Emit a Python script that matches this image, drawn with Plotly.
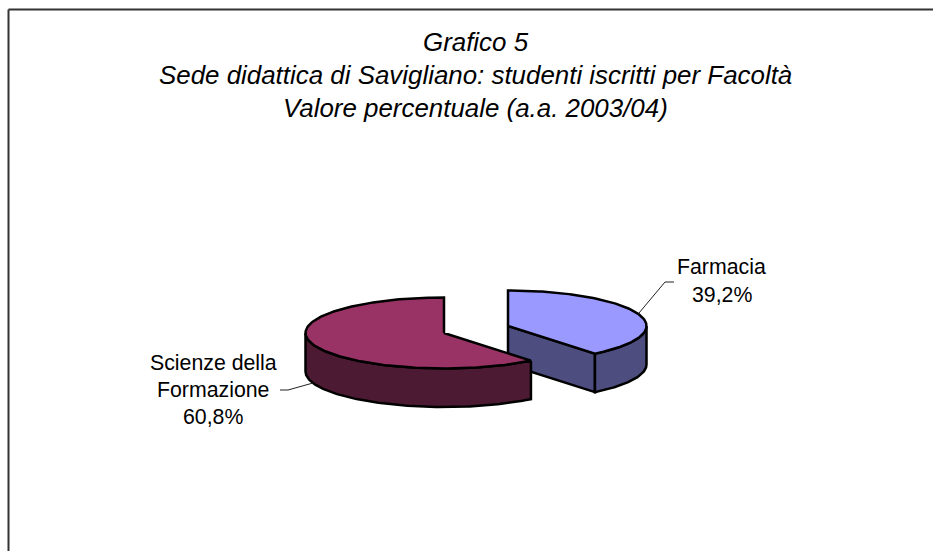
import numpy as np
import plotly.graph_objects as go

# Data
categories = ["Farmacia", "Scienze della Formazione"]
values = [39.2, 60.8]
value_labels = ["39,2%", "60,8%"]
title_lines = ["Grafico 5",
               "Sede didattica di Savigliano: studenti iscritti per Facoltà",
               "Valore percentuale (a.a. 2003/04)"]

# Style / layout
W, H = 933, 551
RX, RY, DEPTH = 138.5, 35.5, 38.5
centers = [(508, 326), (444, 333)]
top_colors = ["#9999FF", "#993366"]
side_colors = ["#4D4D80", "#4D1A33"]
FONT = "Liberation Sans"
EDGE = dict(color="black", width=2.5)

total = sum(values)
fractions = [v / total for v in values]
boundary = fractions[0] * 2 * np.pi


def ell(c, t):
    t = np.asarray(t, dtype=float)
    return c[0] + RX * np.sin(t), c[1] - RY * np.cos(t)


def poly(xs, ys, fill):
    return go.Scatter(x=list(xs), y=list(ys), mode="lines", fill="toself",
                      fillcolor=fill, line=EDGE, hoverinfo="skip",
                      showlegend=False)


fig = go.Figure()

# Farmacia slice: from 0 to boundary, clockwise from the top
c = centers[0]
t = np.linspace(0, boundary, 120)
ax, ay = ell(c, t)
tx, ty = ell(c, [boundary])
# cut face towards the viewer
fig.add_trace(poly([c[0], tx[0], tx[0], c[0], c[0]],
                   [c[1], ty[0], ty[0] + DEPTH, c[1] + DEPTH, c[1]], side_colors[0]))
# outer wall
tw = np.linspace(np.pi / 2, boundary, 60)
wx, wy = ell(c, tw)
fig.add_trace(poly(np.r_[wx, wx[::-1], wx[0]],
                   np.r_[wy, wy[::-1] + DEPTH, wy[0]], side_colors[0]))
# top
fig.add_trace(poly(np.r_[c[0], ax, c[0]], np.r_[c[1], ay, c[1]], top_colors[0]))

# Scienze della Formazione slice: from boundary to full turn
c = centers[1]
t = np.linspace(boundary, 2 * np.pi, 200)
ax, ay = ell(c, t)
tw = np.linspace(boundary, 3 * np.pi / 2, 120)
wx, wy = ell(c, tw)
fig.add_trace(poly(np.r_[wx, wx[::-1], wx[0]],
                   np.r_[wy, wy[::-1] + DEPTH, wy[0]], side_colors[1]))
fig.add_trace(poly(np.r_[c[0], ax, c[0]], np.r_[c[1], ay, c[1]], top_colors[1]))

# Leader lines
for lx, ly in [([639, 665, 674], [313, 282, 282]), ([313, 288, 280], [383, 390, 390])]:
    fig.add_trace(go.Scatter(x=lx, y=ly, mode="lines", hoverinfo="skip", showlegend=False,
                             line=dict(color="#222222", width=1)))


def text(s, x, y, size, italic=False):
    fig.add_annotation(x=x, y=y, text=f"<i>{s}</i>" if italic else s, showarrow=False,
                       xref="x", yref="y", xanchor="center", yanchor="middle",
                       font=dict(family=FONT, size=size, color="black"))


for s, y in zip(title_lines, [41.5, 75, 107.5]):
    text(s, 475.5, y, 25.9, italic=True)
text(categories[0], 721.5, 267, 21.3)
text(value_labels[0], 721.5, 295, 21.3)
words = categories[1].rsplit(" ", 1)
text(words[0], 213, 363, 21.3)
text(words[1], 213, 390, 21.3)
text(value_labels[1], 213, 417, 21.3)

# Frame: top and left edges only reach the image
fig.add_shape(type="line", x0=8.5, x1=W, y0=9.5, y1=9.5, xref="x", yref="y",
              line=dict(color="#333333", width=2))
fig.add_shape(type="line", x0=8.5, x1=8.5, y0=9.5, y1=H, xref="x", yref="y",
              line=dict(color="#333333", width=2))

fig.update_layout(width=W, height=H, margin=dict(l=0, r=0, t=0, b=0),
                  paper_bgcolor="white", plot_bgcolor="white", showlegend=False,
                  xaxis=dict(range=[0, W], visible=False, fixedrange=True),
                  yaxis=dict(range=[H, 0], visible=False, fixedrange=True))
fig.write_html("out.html", config={"displayModeBar": False},
               post_script="document.body.style.margin='0';document.documentElement.style.overflow='hidden';")
